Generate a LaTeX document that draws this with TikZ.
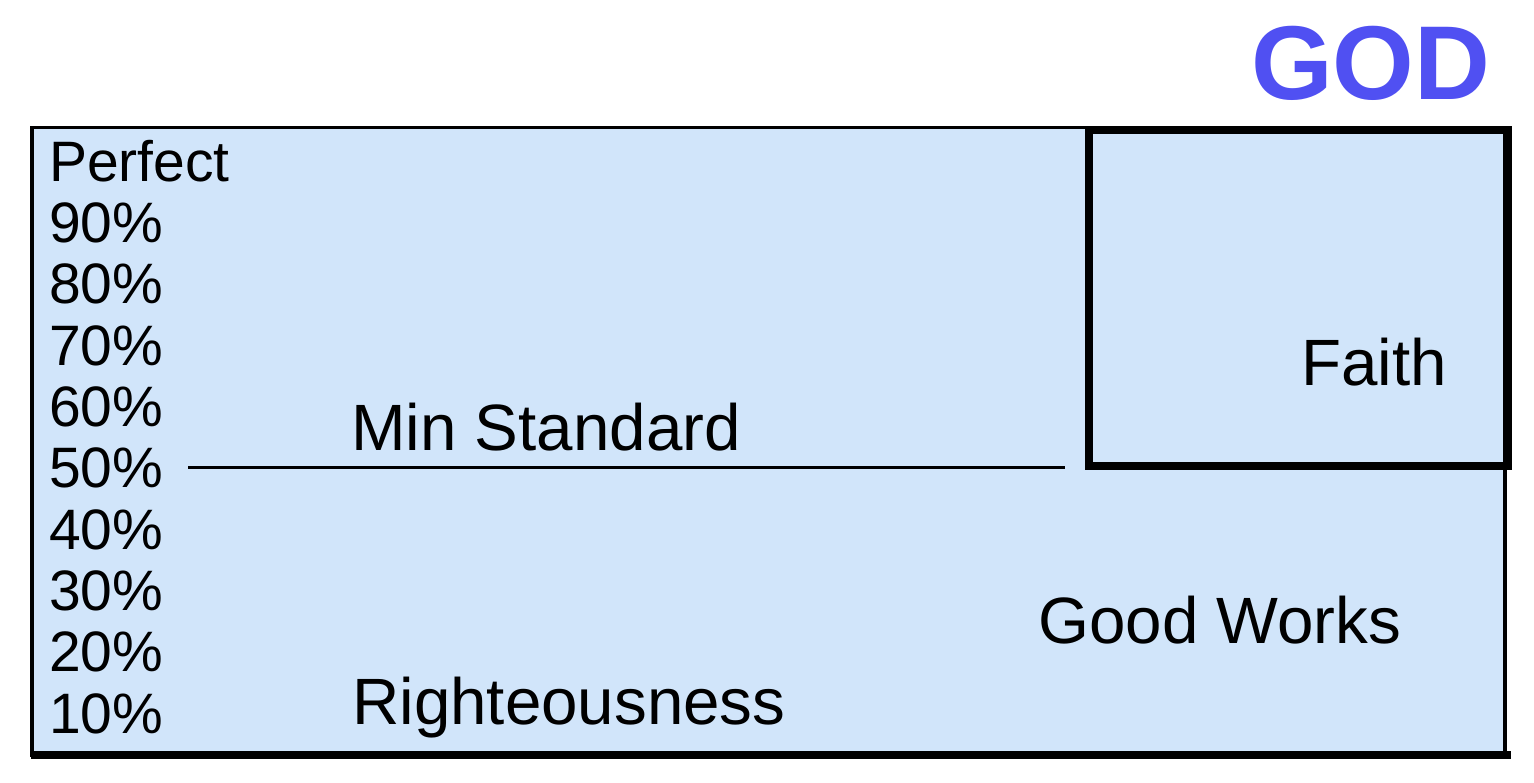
\documentclass[tikz,border=0pt]{standalone}
\usepackage{fontspec}
\setmainfont{Liberation Sans}
\usepackage{xcolor}
\definecolor{godblue}{HTML}{5050F2}
\definecolor{boxfill}{HTML}{D1E5FA}

\begin{document}
\begin{tikzpicture}[x=1pt, y=-1pt,
  pct/.style={anchor=base west, inner sep=0pt,
    font=\fontsize{57}{61}\selectfont},
  lbl/.style={anchor=base west, inner sep=0pt,
    font=\fontsize{65.5}{70}\selectfont},
  frame/.style={draw, line width=3.5pt, fill=boxfill},
  faithbox/.style={draw, line width=8pt}
]
  \useasboundingbox (0,0) rectangle (1534,782);

  % Outer frame
  \draw[frame] (32,127.5) rectangle (1505,755);
  \draw[line width=8.5pt] (31,755) -- (1511,755);

  % Faith box
  \draw[faithbox] (1088.5,130) rectangle (1508,465.5);

  % Scale
  \node[pct] (perfect) at (49,181) {Perfect};
  \node[pct] (p90) at (49,242) {90\%};
  \node[pct] (p80) at (49,303) {80\%};
  \node[pct] (p70) at (49,365) {70\%};
  \node[pct] (p60) at (49,426) {60\%};
  \node[pct] (p50) at (49,487) {50\%};
  \node[pct] (p40) at (49,549) {40\%};
  \node[pct] (p30) at (49,610) {30\%};
  \node[pct] (p20) at (49,671) {20\%};
  \node[pct] (p10) at (49,733) {10\%};

  % Minimum standard
  \coordinate (minL) at (188,467);
  \coordinate (minR) at (1065,467);
  \draw[line width=3pt] (minL) -- (minR);
  \node[lbl] (minstd) at (351,450) {Min Standard};

  % Labels
  \node[lbl] (righteous) at (352,724) {Righteousness};
  \node[lbl] (faith) at (1301,385) {Faith};
  \node[lbl] (works) at (1038,643) {Good Works};
  \node[anchor=base west, inner sep=0pt, godblue,
    font=\fontsize{105}{110}\selectfont\bfseries] (god) at (1251,99) {GOD};
\end{tikzpicture}
\end{document}
